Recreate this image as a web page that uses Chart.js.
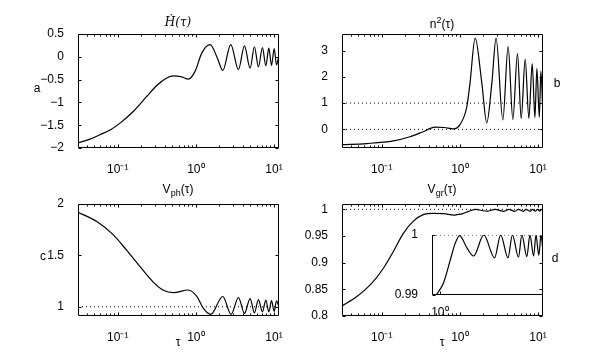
<!DOCTYPE html>
<html><head><meta charset="utf-8">
<script src="https://cdn.jsdelivr.net/npm/chart.js@4/dist/chart.umd.min.js"></script>
<style>
html,body{margin:0;padding:0;background:#fff;}
#wrap{position:relative;width:599px;height:357px;overflow:hidden;font-family:"Liberation Sans",Arial,sans-serif;color:#000;}
canvas{position:absolute;left:0;top:0;}
.t{position:absolute;font-size:12px;line-height:1;white-space:nowrap;transform:translate(-50%,-50%);}
.t sub{font-size:9px;vertical-align:-3px;line-height:0}
.t sup{font-size:9px;vertical-align:5px;line-height:0}
.serif{font-family:"DejaVu Serif","Liberation Serif",serif;font-style:italic;font-size:12px}
</style></head><body>
<div id="wrap">
<canvas id="ca" width="599" height="357"></canvas>
<canvas id="cb" width="599" height="357"></canvas>
<canvas id="cc" width="599" height="357"></canvas>
<canvas id="cd" width="599" height="357"></canvas>
<canvas id="ci" width="599" height="357"></canvas>
<div class="t serif" style="left:178px;top:22px">Ḣ(τ)</div>
<div class="t" style="left:442px;top:24px">n<sup>2</sup>(τ)</div>
<div class="t" style="left:178px;top:189px">V<sub>ph</sub>(τ)</div>
<div class="t" style="left:442px;top:189px">V<sub>gr</sub>(τ)</div>
<div class="t" style="left:37px;top:88px">a</div>
<div class="t" style="left:557px;top:83px">b</div>
<div class="t" style="left:43px;top:256px">c</div>
<div class="t" style="left:555px;top:258px">d</div>
<div class="t" style="left:178px;top:342px">τ</div>
<div class="t" style="left:442px;top:342px">τ</div>
</div>
<script>
// ---- data ----
const xTickVals = [0.1, 1, 10];
const xTickText = ['10\u207B\u00B9', '10\u2070', '10\u00B9'];
const tauMin = 0.031, tauMax = 11.6;

const aTicks = [-2, -1.5, -1, -0.5, 0, 0.5];
const aTau = [0.031, 0.045, 0.059, 0.08, 0.107, 0.158, 0.235, 0.316, 0.424, 0.515, 0.66, 0.80, 0.977, 1.19, 1.52, 1.89, 2.21, 2.80, 3.51, 4.19, 4.95, 5.62, 6.33, 7.12, 7.87, 8.6, 9.3, 10.07, 10.77, 11.6];
const aVal = [-1.89, -1.80, -1.71, -1.605, -1.455, -1.20, -0.87, -0.63, -0.465, -0.42, -0.44, -0.49, -0.32, 0.08, 0.265, -0.03, -0.30, 0.265, -0.28, 0.24, -0.25, 0.22, -0.22, 0.2, -0.2, 0.19, -0.19, 0.18, -0.18, 0.05];

const bTicks = [0, 1, 2, 3];
const bRefs = [0, 1];
const bTau = [0.031, 0.064, 0.141, 0.23, 0.34, 0.48, 0.63, 0.826, 1.0, 1.23, 1.35, 1.57, 1.91, 2.21, 2.57, 2.91, 3.55, 4.15, 4.77, 5.47, 6.1, 6.86, 7.65, 8.44, 9.14, 9.69, 10.4, 10.9, 11.6];
const bVal = [-0.58, -0.54, -0.44, -0.28, -0.09, 0.085, 0.07, 0.02, 0.17, 0.87, 1.77, 3.47, 1.77, 0.25, 1.77, 3.47, 0.36, 3.15, 0.38, 2.88, 0.41, 2.67, 0.42, 2.5, 0.45, 2.32, 0.46, 2.22, 0.46];

const cTicks = [1, 1.5, 2];
const cRefs = [1];
const cTau = [0.031, 0.054, 0.088, 0.13, 0.193, 0.285, 0.384, 0.515, 0.80, 1.03, 1.25, 1.55, 2.21, 2.83, 3.51, 4.19, 4.95, 5.62, 6.33, 7.12, 7.87, 8.6, 9.3, 10.07, 10.77, 11.6];
const cVal = [1.92, 1.83, 1.70, 1.55, 1.39, 1.24, 1.16, 1.137, 1.163, 1.10, 0.984, 0.926, 1.10, 0.926, 1.09, 0.935, 1.08, 0.94, 1.07, 0.95, 1.065, 0.95, 1.06, 0.955, 1.057, 1.0];

const dTicks = [0.8, 0.85, 0.9, 0.95, 1];
const dRefs = [1];
const dTau = [0.031, 0.0477, 0.0743, 0.105, 0.141, 0.189, 0.254, 0.34, 0.458, 0.62, 0.85, 0.914, 1.09, 1.28, 1.44, 1.60, 1.91, 2.23, 2.84, 3.67, 4.24, 5.05, 5.61, 6.48, 7.02, 7.91, 8.5, 9.28, 9.82, 10.5, 11.07, 11.6];
const dVal = [0.819, 0.836, 0.861, 0.8895, 0.921, 0.955, 0.978, 0.990, 0.9925, 0.9918, 0.9893, 0.9900, 0.9920, 0.9958, 0.9986, 0.9999, 0.9978, 0.9965, 1.0, 0.9962, 1.0, 0.9962, 1.0, 0.9963, 1.0, 0.9964, 1.0, 0.9965, 1.0, 0.9966, 1.0, 0.9972];

const insetTicks = [0.99, 1];
const insetXTicks = [1];
const insetXText = ['10\u2070'];
const insetMin = 0.83;

// ---- drawing ----
const W_Y = 40, H_X = 30, PW = 599, PH = 357;
const FONT = {family: 'Liberation Sans', size: 12};

const framePlugin = {
  id: 'frame',
  afterDatasetsDraw(chart, args, o) {
    const ctx = chart.ctx, a = chart.chartArea, xs = chart.scales.x, ys = chart.scales.y;
    const L = Math.floor(a.left) + 0.5, R = Math.floor(a.right) - 0.5;
    const T = Math.floor(a.top) + 0.5, B = Math.floor(a.bottom) - 0.5;
    ctx.save();
    ctx.strokeStyle = '#000'; ctx.lineWidth = 1;
    ctx.beginPath();
    if (o.all) { ctx.rect(L, T, R - L, B - T); }
    else { ctx.moveTo(L, T); ctx.lineTo(L, B); ctx.lineTo(R, B); }
    const tk = (x1, y1, x2, y2) => { ctx.moveTo(x1, y1); ctx.lineTo(x2, y2); };
    const maj = 3, mn = 2;
    o.xt.forEach(v => {
      const x = Math.round(xs.getPixelForValue(v)) + 0.5;
      tk(x, B, x, B - maj); if (o.all) tk(x, T, x, T + maj);
    });
    if (o.minor) {
      for (let e = -2; e <= 1; e++) for (let k = 2; k <= 9; k++) {
        const v = k * Math.pow(10, e);
        if (v <= xs.min || v >= xs.max) continue;
        const x = Math.round(xs.getPixelForValue(v)) + 0.5;
        tk(x, B, x, B - mn); if (o.all) tk(x, T, x, T + mn);
      }
    }
    o.yt.forEach(v => {
      const y = Math.round(ys.getPixelForValue(v)) + 0.5;
      tk(L, y, L + maj, y); if (o.all) tk(R, y, R - maj, y);
    });
    ctx.stroke();
    ctx.restore();
  }
};

function fmtY(v) { return (v < 0 ? '\u2212' : '') + Math.abs(v); }

function makeChart(id, area, xr, xt, xtText, yr, yt, curves, refs, all, minor, xPad) {
  const ds = curves.map(c => ({
    data: c.tau.map((t, i) => ({x: t, y: c.val[i]})),
    borderColor: '#000', borderWidth: 1.2, pointRadius: 0,
    cubicInterpolationMode: 'monotone', fill: false
  }));
  refs.forEach(v => ds.push({
    data: [{x: xr[0], y: v}, {x: xr[1], y: v}],
    borderColor: '#000', borderWidth: 1, borderDash: [1, 3], pointRadius: 0, fill: false
  }));
  return new Chart(document.getElementById(id), {
    type: 'line',
    data: {datasets: ds},
    options: {
      responsive: false, animation: false, events: [],
      layout: {padding: {left: area.l - W_Y, top: area.t, right: PW - area.r, bottom: PH - area.b - H_X}},
      plugins: {legend: {display: false}, title: {display: false}, tooltip: {enabled: false},
        frame: {all: all, minor: minor, xt: xt, yt: yt}},
      scales: {
        x: {type: 'logarithmic', min: xr[0], max: xr[1],
          grid: {display: false}, border: {display: false},
          afterBuildTicks: s => { s.ticks = xt.map(v => ({value: v})); },
          afterFit: s => { s.height = H_X; },
          ticks: {autoSkip: false, maxRotation: 0, minRotation: 0, padding: xPad, color: '#000', font: FONT,
            callback: (v, i) => xtText[i]}},
        y: {type: 'linear', min: yr[0], max: yr[1],
          grid: {display: false}, border: {display: false},
          afterBuildTicks: s => { s.ticks = yt.map(v => ({value: v})); },
          afterFit: s => { s.width = W_Y; },
          ticks: {autoSkip: false, padding: 6, color: '#000', font: FONT,
            callback: (v, i) => fmtY(yt[i])}}
      }
    },
    plugins: [framePlugin]
  });
}

const xr = [tauMin, tauMax];
makeChart('ca', {l: 78, t: 34, r: 279, b: 148}, xr, xTickVals, xTickText, [-2, 0.5], aTicks,
  [{tau: aTau, val: aVal}], [], true, true, 6);
makeChart('cb', {l: 342, t: 34, r: 543, b: 148}, xr, xTickVals, xTickText, [-0.71, 3.63], bTicks,
  [{tau: bTau, val: bVal}], bRefs, true, true, 6);
makeChart('cc', {l: 78, t: 204, r: 279, b: 316}, xr, xTickVals, xTickText, [0.91, 2], cTicks,
  [{tau: cTau, val: cVal}], cRefs, true, true, 6);
makeChart('cd', {l: 342, t: 204, r: 543, b: 316}, xr, xTickVals, xTickText, [0.8, 1.01], dTicks,
  [{tau: dTau, val: dVal}], dRefs, true, true, 6);

const insTau = dTau.filter(t => t >= 0.5);
const insVal = dVal.filter((v, i) => dTau[i] >= 0.5);
makeChart('ci', {l: 432, t: 235, r: 543, b: 295}, [insetMin, tauMax], insetXTicks, insetXText, [0.99, 1], insetTicks,
  [{tau: insTau, val: insVal}], [1], false, false, 2);
</script>
</body></html>
